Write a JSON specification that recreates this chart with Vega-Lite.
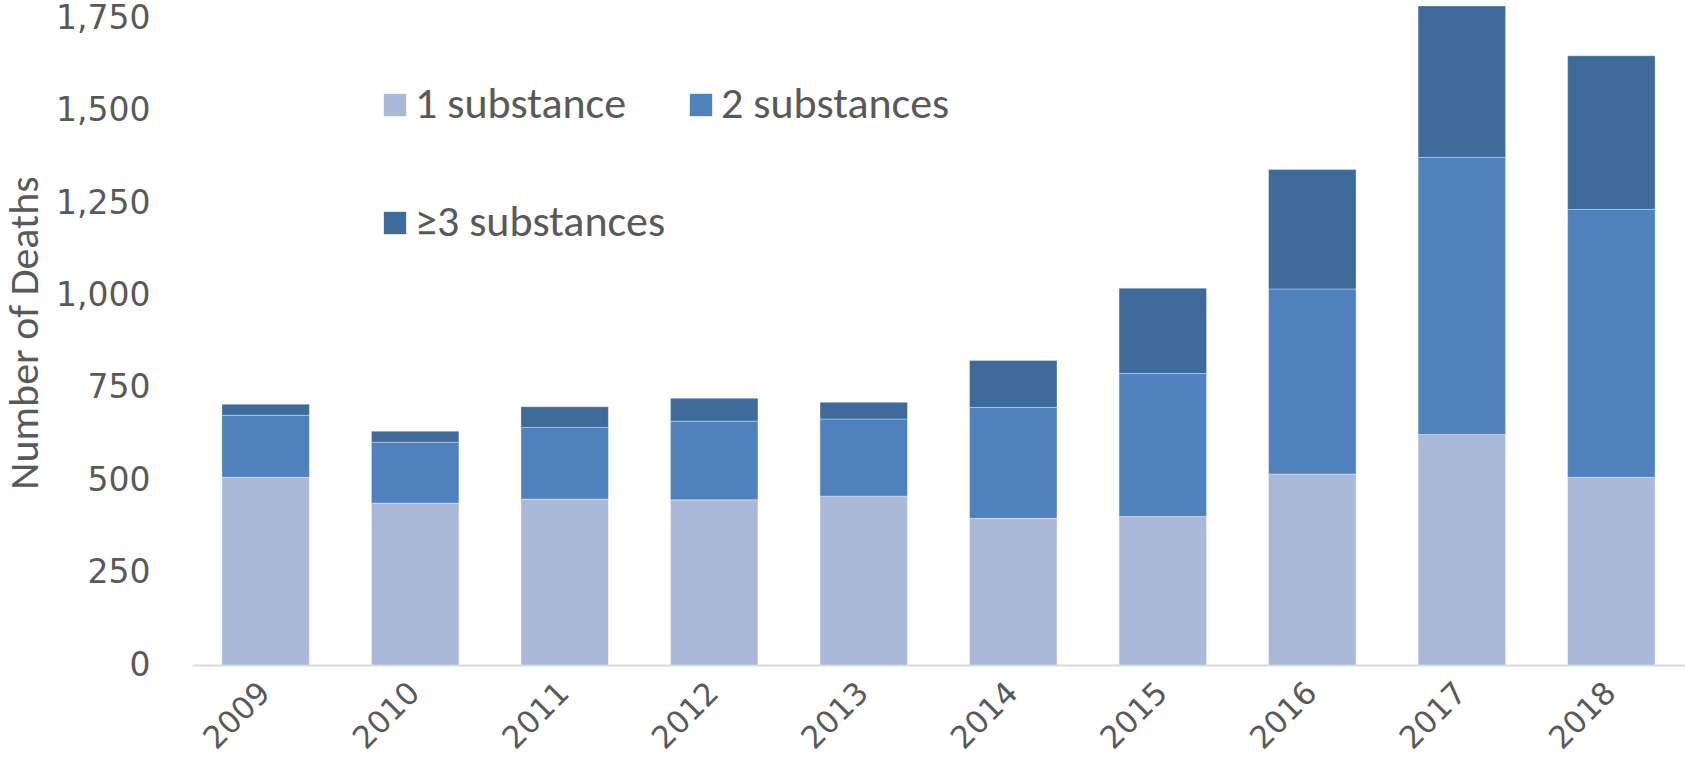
{
  "$schema": "https://vega.github.io/schema/vega-lite/v6.json",
  "width": 1493,
  "height": 665,
  "autosize": {"type": "none"},
  "padding": {"left": 192, "top": 0, "right": 0, "bottom": 119},
  "background": "white",
  "config": {
    "view": {"stroke": null},
    "font": "Carlito, 'Liberation Sans Narrow', Lato, sans-serif"
  },
  "data": {
    "values": [
      {"year": "2009", "type": "1 substance", "deaths": 508},
      {"year": "2009", "type": "2 substances", "deaths": 168},
      {"year": "2009", "type": "≥3 substances", "deaths": 30},
      {"year": "2010", "type": "1 substance", "deaths": 438},
      {"year": "2010", "type": "2 substances", "deaths": 165},
      {"year": "2010", "type": "≥3 substances", "deaths": 30},
      {"year": "2011", "type": "1 substance", "deaths": 449},
      {"year": "2011", "type": "2 substances", "deaths": 194},
      {"year": "2011", "type": "≥3 substances", "deaths": 56},
      {"year": "2012", "type": "1 substance", "deaths": 447},
      {"year": "2012", "type": "2 substances", "deaths": 213},
      {"year": "2012", "type": "≥3 substances", "deaths": 62},
      {"year": "2013", "type": "1 substance", "deaths": 457},
      {"year": "2013", "type": "2 substances", "deaths": 209},
      {"year": "2013", "type": "≥3 substances", "deaths": 45},
      {"year": "2014", "type": "1 substance", "deaths": 397},
      {"year": "2014", "type": "2 substances", "deaths": 300},
      {"year": "2014", "type": "≥3 substances", "deaths": 127},
      {"year": "2015", "type": "1 substance", "deaths": 402},
      {"year": "2015", "type": "2 substances", "deaths": 387},
      {"year": "2015", "type": "≥3 substances", "deaths": 231},
      {"year": "2016", "type": "1 substance", "deaths": 517},
      {"year": "2016", "type": "2 substances", "deaths": 501},
      {"year": "2016", "type": "≥3 substances", "deaths": 323},
      {"year": "2017", "type": "1 substance", "deaths": 624},
      {"year": "2017", "type": "2 substances", "deaths": 750},
      {"year": "2017", "type": "≥3 substances", "deaths": 410},
      {"year": "2018", "type": "1 substance", "deaths": 508},
      {"year": "2018", "type": "2 substances", "deaths": 725},
      {"year": "2018", "type": "≥3 substances", "deaths": 416}
    ]
  },
  "mark": {"type": "bar", "stroke": "#ffffff", "strokeWidth": 1, "strokeOpacity": 0.35},
  "encoding": {
    "x": {
      "field": "year",
      "type": "ordinal",
      "scale": {"paddingInner": 0.415, "paddingOuter": 0.2},
      "axis": {
        "title": null,
        "labelAngle": -45,
        "labelAlign": "right",
        "labelBaseline": "middle",
        "labelFont": "DejaVu Sans",
        "labelFontSize": 31,
        "labelColor": "#595959",
        "ticks": false,
        "labelPadding": 23,
        "domainColor": "#d9d9d9",
        "domainWidth": 2
      }
    },
    "y": {
      "field": "deaths",
      "type": "quantitative",
      "stack": "zero",
      "scale": {"domain": [0, 1800], "nice": false},
      "axis": {
        "title": "Number of  Deaths",
        "titleFont": "Carlito, 'Liberation Sans Narrow', Lato, sans-serif",
        "titleFontSize": 42,
        "titleFontWeight": "normal",
        "titleColor": "#595959",
        "titlePadding": 9,
        "values": [0, 250, 500, 750, 1000, 1250, 1500, 1750],
        "format": ",.0f",
        "labelFont": "DejaVu Sans",
        "labelFontSize": 33,
        "labelColor": "#595959",
        "labelPadding": 42,
        "ticks": false,
        "domain": false,
        "grid": false
      }
    },
    "order": {"field": "type", "sort": "ascending"},
    "color": {
      "field": "type",
      "type": "nominal",
      "scale": {
        "domain": ["1 substance", "2 substances", "≥3 substances"],
        "range": ["#aab9d7", "#4f81bd", "#3f6a9a"]
      },
      "legend": {
        "title": null,
        "orient": "none",
        "legendX": 181,
        "legendY": 83,
        "direction": "horizontal",
        "columns": 2,
        "padding": 0,
        "symbolType": "square",
        "symbolSize": 500,
        "symbolStrokeWidth": 0,
        "symbolOpacity": 1,
        "labelFont": "Carlito, 'Liberation Sans Narrow', Lato, sans-serif",
        "labelFontSize": 44,
        "labelColor": "#595959",
        "labelOffset": -2,
        "labelLimit": 600,
        "columnPadding": 13,
        "rowPadding": 74
      }
    }
  }
}
